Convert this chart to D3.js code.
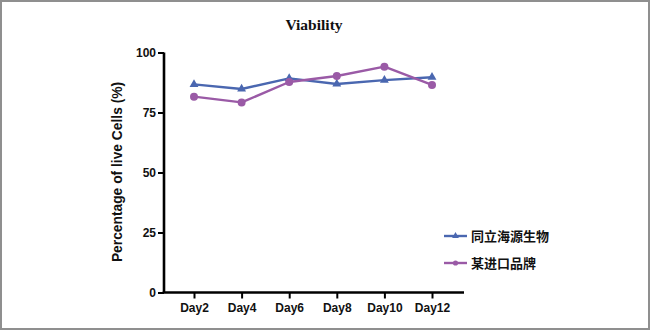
<!DOCTYPE html>
<html>
<head>
<meta charset="utf-8">
<script src="https://cdn.jsdelivr.net/npm/d3@7"></script>
<style>
  html, body { margin: 0; padding: 0; background: #fff; }
  svg { display: block; }
</style>
</head>
<body>
<svg id="chart" width="650" height="330"></svg>
<script>
// Cell viability over culture days
const days = ["Day2", "Day4", "Day6", "Day8", "Day10", "Day12"];
const seriesNames = ["同立海源生物", "某进口品牌"];
const tongliValues = [86.7, 84.8, 89.2, 86.9, 88.5, 89.7];
const importValues = [81.6, 79.2, 87.7, 90.2, 94.1, 86.5];
const yTicks = [0, 25, 50, 75, 100];
const colors = ["#4a67b0", "#9a5aa6"];

const svg = d3.select("#chart");
const W = 650, H = 330;

// frame around the figure
svg.append("rect")
  .attr("x", 1).attr("y", 1).attr("width", W - 2).attr("height", H - 2)
  .attr("fill", "#fff").attr("stroke", "#8f8f8f").attr("stroke-width", 2);

const x = d3.scalePoint().domain(days).range([194, 432]);
const y = d3.scaleLinear().domain([0, 100]).range([292.5, 52.5]);
const xAxisEnd = 464;
const x0 = 164;

// title
svg.append("text")
  .attr("x", 314).attr("y", 30)
  .attr("text-anchor", "middle")
  .attr("font-family", "Liberation Serif, Times New Roman, serif")
  .attr("font-weight", "bold").attr("font-size", 15.5)
  .attr("fill", "#111")
  .text("Viability");

// y axis
const yAxis = d3.axisLeft(y).tickValues(yTicks).tickSize(6).tickPadding(2);
const gy = svg.append("g").attr("transform", `translate(${x0},0)`).call(yAxis);
gy.select(".domain").attr("stroke", "#000").attr("stroke-width", 2.6)
  .attr("d", `M0,${y(100)}V${y(0)}`);
gy.selectAll(".tick line").attr("stroke", "#000").attr("stroke-width", 2);
gy.selectAll(".tick text")
  .attr("font-family", "Liberation Sans, Arial, sans-serif")
  .attr("font-weight", "bold").attr("font-size", 12).attr("fill", "#111");

// x axis
const xAxis = d3.axisBottom(x).tickSize(6).tickPadding(5);
const gx = svg.append("g").attr("transform", `translate(0,${y(0)})`).call(xAxis);
gx.select(".domain").attr("stroke", "#000").attr("stroke-width", 2.6)
  .attr("d", `M${x0 - 1.3},0H${xAxisEnd}`);
gx.selectAll(".tick line").attr("stroke", "#000").attr("stroke-width", 2);
gx.selectAll(".tick text")
  .attr("font-family", "Liberation Sans, Arial, sans-serif")
  .attr("font-weight", "bold").attr("font-size", 12).attr("fill", "#111");

// y axis title
svg.append("text")
  .attr("transform", `translate(122,${(y(0) + y(100)) / 2 - 0.5}) rotate(-90)`)
  .attr("text-anchor", "middle")
  .attr("font-family", "Liberation Sans, Arial, sans-serif")
  .attr("font-weight", "bold").attr("font-size", 13.8).attr("fill", "#111")
  .text("Percentage of live Cells (%)");

const series = [tongliValues, importValues];
const line = d3.line().x((d, i) => x(days[i])).y(d => y(d));
const triangle = d3.symbol().type(d3.symbolTriangle).size(34);

series.forEach((vals, s) => {
  svg.append("path")
    .datum(vals)
    .attr("d", line)
    .attr("fill", "none")
    .attr("stroke", colors[s])
    .attr("stroke-width", 2.4)
    .attr("stroke-linejoin", "round");
  const pts = svg.append("g");
  vals.forEach((v, i) => {
    if (s === 0) {
      pts.append("path").attr("d", triangle)
        .attr("transform", `translate(${x(days[i])},${y(v)})`)
        .attr("fill", colors[s]);
    } else {
      pts.append("circle").attr("cx", x(days[i])).attr("cy", y(v))
        .attr("r", 4).attr("fill", colors[s]);
    }
  });
});

// legend
const legY = [236, 263];
seriesNames.forEach((name, s) => {
  const g = svg.append("g").attr("transform", `translate(444,${legY[s]})`);
  g.append("line").attr("x1", 0).attr("x2", 23).attr("y1", 0).attr("y2", 0)
    .attr("stroke", colors[s]).attr("stroke-width", 2.4);
  if (s === 0) {
    g.append("path").attr("d", d3.symbol().type(d3.symbolTriangle).size(20))
      .attr("transform", "translate(11.5,0)").attr("fill", colors[s]);
  } else {
    g.append("circle").attr("cx", 11.5).attr("cy", 0).attr("r", 2.6).attr("fill", colors[s]);
  }
  g.append("text").attr("x", 27).attr("y", 4.5)
    .attr("font-family", "Noto Sans CJK SC, sans-serif")
    .attr("font-weight", "bold").attr("font-size", 13).attr("fill", "#111")
    .text(name);
});
</script>
</body>
</html>
